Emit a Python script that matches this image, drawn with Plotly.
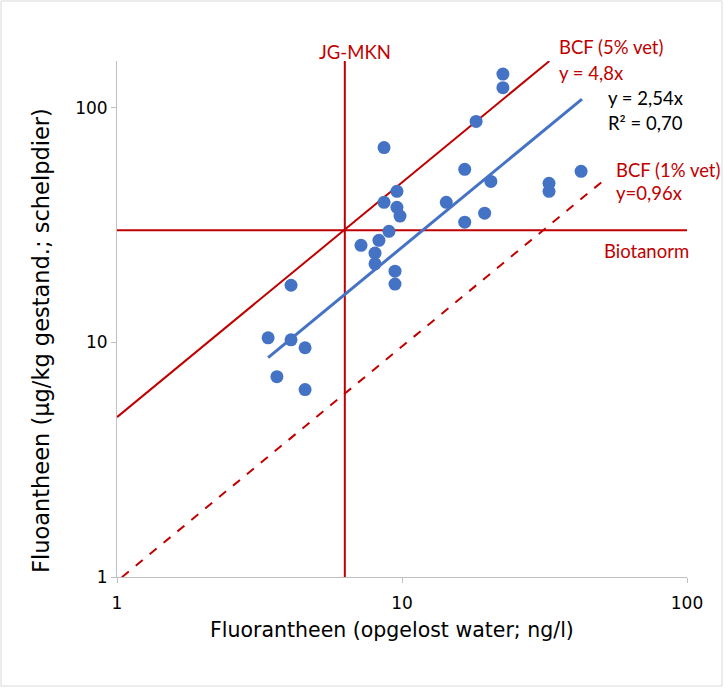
import numpy as np
import plotly.graph_objects as go

# Data
water_ngl = [22.6, 22.6, 18.2, 8.65, 16.6, 42.5, 32.8, 32.8, 20.5, 9.6, 8.65, 14.3,
             9.6, 9.84, 19.5, 16.6, 9.0, 7.18, 8.3, 8.04, 8.04, 9.45, 9.45, 4.08,
             3.39, 4.08, 4.57, 3.64, 4.57]
shellfish_ugkg = [139, 121.6, 87.3, 67.6, 54.6, 53.5, 47.6, 44.0, 48.5, 44.0, 39.5, 39.5,
                  37.6, 34.5, 35.5, 32.5, 29.7, 25.9, 27.2, 24.0, 21.6, 20.1, 17.7, 17.5,
                  10.45, 10.25, 9.48, 7.14, 6.29]

reg_slope = 2.54
reg_x = [3.39, 42.8]
bcf5_slope = 4.8
bcf5_x = [1.0, 32.9]
bcf1_slope = 0.96
bcf1_x = [1.04, 50.5]
jg_mkn = 6.3
biotanorm = 30

x_range = [1, 100]
y_range = [1, 158]
x_ticks = [1, 10, 100]
y_ticks = [1, 10, 100]

RED = "#C00000"
BLUE = "#4472C4"
AXIS = "#BFBFBF"
ANN_FONT = "Lato"
TICK_FONT = "DejaVu Sans"

W, H = 725, 689
ML, MR, MT, MB = 117, 38, 61, 112
PW, PH = W - ML - MR, H - MT - MB


def px(x):
    return (x - ML) / PW


def py(y):
    return (H - MB - y) / PH


fig = go.Figure()

fig.add_trace(go.Scatter(x=bcf5_x, y=[bcf5_slope * v for v in bcf5_x], mode="lines",
                         line=dict(color=RED, width=2), showlegend=False, hoverinfo="skip"))
fig.add_trace(go.Scatter(x=bcf1_x, y=[bcf1_slope * v for v in bcf1_x], mode="lines",
                         line=dict(color=RED, width=2, dash="dash"), showlegend=False,
                         hoverinfo="skip"))
fig.add_trace(go.Scatter(x=[jg_mkn, jg_mkn], y=y_range, mode="lines",
                         line=dict(color=RED, width=2), showlegend=False, hoverinfo="skip"))
fig.add_trace(go.Scatter(x=x_range, y=[biotanorm, biotanorm], mode="lines",
                         line=dict(color=RED, width=2), showlegend=False, hoverinfo="skip"))
fig.add_trace(go.Scatter(x=water_ngl, y=shellfish_ugkg, mode="markers",
                         marker=dict(color=BLUE, size=13), showlegend=False))
fig.add_trace(go.Scatter(x=reg_x, y=[reg_slope * v for v in reg_x], mode="lines",
                         line=dict(color=BLUE, width=3), showlegend=False, hoverinfo="skip"))

labels = [
    ("JG-MKN", 355, 52, "center", RED),
    ("BCF (5% vet)", 557, 47, "left", RED),
    ("y = 4,8x", 557, 73, "left", RED),
    ("y = 2,54x", 606, 98, "left", "#000000"),
    ("R² = 0,70", 606, 123, "left", "#000000"),
    ("BCF (1% vet)", 614, 170, "left", RED),
    ("y=0,96x", 614, 193, "left", RED),
    ("Biotanorm", 602, 251, "left", RED),
]
for text, lx, ly, anchor, col in labels:
    fig.add_annotation(x=px(lx), y=py(ly), xref="paper", yref="paper", text=text,
                       showarrow=False, xanchor=anchor, yanchor="middle",
                       font=dict(family=ANN_FONT, size=18.5, color=col))

# axis titles
fig.add_annotation(x=px(392), y=py(630), xref="paper", yref="paper",
                   text="Fluorantheen (opgelost water; ng/l)", showarrow=False,
                   xanchor="center", yanchor="middle",
                   font=dict(family=TICK_FONT, size=20.5, color="#000000"))
fig.add_annotation(x=px(41), y=py(341), xref="paper", yref="paper",
                   text="Fluoantheen (µg/kg gestand.; schelpdier)", showarrow=False,
                   textangle=-90, xanchor="center", yanchor="middle",
                   font=dict(family=TICK_FONT, size=22.5, color="#000000"))

# chart-area border
fig.add_shape(type="rect", xref="paper", yref="paper",
              x0=px(1), x1=px(722), y0=py(686), y1=py(1),
              line=dict(color="#D9D9D9", width=1), fillcolor="rgba(0,0,0,0)", layer="below")

fig.update_xaxes(type="log", range=[np.log10(x_range[0]), np.log10(x_range[1])],
                 tickvals=x_ticks, ticktext=[str(t) for t in x_ticks],
                 showgrid=False, zeroline=False, showline=True, linecolor=AXIS, linewidth=1,
                 ticks="outside", ticklen=5, tickcolor=AXIS, ticklabelstandoff=6,
                 tickfont=dict(family=TICK_FONT, size=17, color="#000000"))
fig.update_yaxes(type="log", range=[np.log10(y_range[0]), np.log10(y_range[1])],
                 tickvals=y_ticks, ticktext=[str(t) for t in y_ticks],
                 showgrid=False, zeroline=False, showline=True, linecolor=AXIS, linewidth=1,
                 ticks="outside", ticklen=5, tickcolor=AXIS,
                 tickfont=dict(family=TICK_FONT, size=17, color="#000000"))

fig.update_layout(width=W, height=H, margin=dict(l=ML, r=MR, t=MT, b=MB),
                  plot_bgcolor="white", paper_bgcolor="white", showlegend=False)

fig.write_html("out.html")
